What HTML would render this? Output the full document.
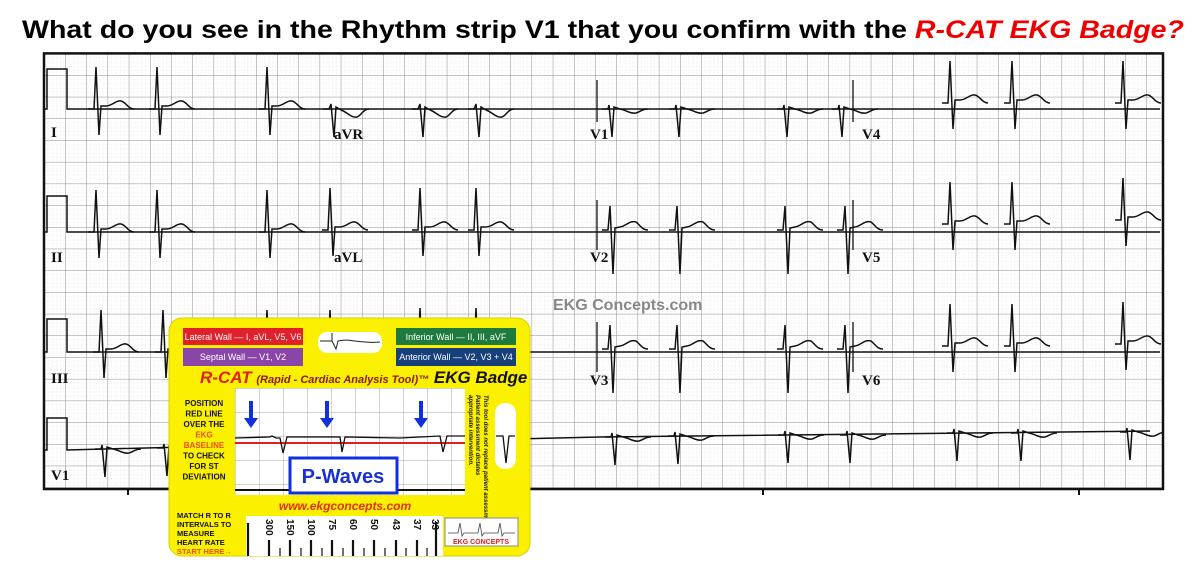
<!DOCTYPE html>
<html><head><meta charset="utf-8"><style>
html,body{margin:0;padding:0;background:#fff;}
svg{display:block;}
</style></head><body>
<svg width="1200" height="570" viewBox="0 0 1200 570" xmlns="http://www.w3.org/2000/svg" font-family="Liberation Sans, sans-serif">
<defs>
<pattern id="g" x="44" y="53.4" width="21.2" height="21.7" patternUnits="userSpaceOnUse">
<g stroke="#dadada" stroke-width="0.6" stroke-dasharray="0.8,2.4">
<line x1="4.24" y1="0" x2="4.24" y2="21.7"/><line x1="8.48" y1="0" x2="8.48" y2="21.7"/><line x1="12.72" y1="0" x2="12.72" y2="21.7"/><line x1="16.96" y1="0" x2="16.96" y2="21.7"/>
<line y1="4.34" x1="0" y2="4.34" x2="21.2"/><line y1="8.68" x1="0" y2="8.68" x2="21.2"/><line y1="13.02" x1="0" y2="13.02" x2="21.2"/><line y1="17.36" x1="0" y2="17.36" x2="21.2"/>
</g>
<path d="M0,0 H21.2 M0,0 V21.7" stroke="#8c8c8c" stroke-width="1" fill="none"/>
</pattern>
<pattern id="g2" x="235" y="388" width="24" height="24" patternUnits="userSpaceOnUse">
<path d="M0,0 H24 M0,0 V24" stroke="#aaa" stroke-width="1" fill="none"/>
</pattern>
<clipPath id="clip"><rect x="45" y="54" width="1117" height="434"/></clipPath>
<path id="up" d="M-8,0 L-2,0 L0,-42 L3,26 L5,-3 L10,-3 C16,-3 20,-9 25,-8 C30,-7 32,0 38,0" fill="none" stroke="#111" stroke-width="1.5"/>
<path id="dn" d="M-8,0 L-2,0 L0,-5 L3,28 L5,-2 L10,1 C16,3 20,9 26,8 C30,7 32,0 38,0" fill="none" stroke="#111" stroke-width="1.5"/>
<path id="v1" d="M-8,0 L-2,0 L-1,-4 L2,28 L4,-2 L10,0 C16,1 20,5 26,4 C30,3 32,0 38,0" fill="none" stroke="#111" stroke-width="1.5"/>
<path id="v2" d="M-8,0 L-2,0 L0,-24 L3,44 L5,-2 L10,-3 C16,-4 20,-10 26,-8 C30,-5 32,0 38,0" fill="none" stroke="#111" stroke-width="1.5"/>
</defs>

<text x="603" y="38" text-anchor="middle" font-size="25" font-weight="bold" textLength="1162" lengthAdjust="spacingAndGlyphs" fill="#000">What do you see in the Rhythm strip V1 that you confirm with the <tspan fill="#e00" font-style="italic">R-CAT EKG Badge?</tspan></text>

<rect x="44" y="53.4" width="1119" height="435.6" fill="url(#g)"/>
<rect x="44" y="53.4" width="1119" height="435.6" fill="none" stroke="#111" stroke-width="2.5"/>
<g stroke="#111" stroke-width="2"><line x1="128" y1="489" x2="128" y2="495"/><line x1="445" y1="489" x2="445" y2="495"/><line x1="763" y1="489" x2="763" y2="495"/><line x1="1079" y1="489" x2="1079" y2="495"/></g>

<g clip-path="url(#clip)">
<g fill="none" stroke="#111" stroke-width="1.5">
<path d="M45,109 H47 V69 H67 V109 H1160"/>
<path d="M45,232 H47 V196 H67 V232 H1160"/>
<path d="M45,352 H47 V319 H67 V352 H1160"/>
<path d="M45,450 H47 V418 H67 V450 L300,444 L600,437 L1150,431"/>
<path d="M597,80 V122 M853,80 V122 M597,200 V250 M853,200 V250 M597,322 V372 M853,322 V372" stroke-width="1.3"/>
</g>
<use href="#up" x="96" y="109"/><use href="#up" x="157" y="109"/><use href="#up" x="267" y="109"/>
<use href="#dn" x="331" y="109"/><use href="#dn" x="420" y="109"/><use href="#dn" x="476" y="109"/>
<use href="#v1" x="610" y="109"/><use href="#v1" x="677" y="109"/><use href="#v1" x="785" y="109"/><use href="#v1" x="840" y="109"/>
<use href="#up" x="950" y="103"/><use href="#up" x="1012" y="103"/><use href="#up" x="1123" y="103"/>

<use href="#up" x="96" y="232"/><use href="#up" x="157" y="232"/><use href="#up" x="267" y="232"/>
<use href="#up" x="330" y="230"/><use href="#up" x="420" y="230"/><use href="#up" x="476" y="230"/>
<use href="#v2" x="610" y="230"/><use href="#v2" x="677" y="230"/><use href="#v2" x="785" y="230"/><use href="#v2" x="845" y="230"/>
<use href="#up" x="950" y="224"/><use href="#up" x="1012" y="224"/><use href="#up" x="1123" y="220"/>

<use href="#up" x="101" y="352"/><use href="#up" x="163" y="352"/><use href="#up" x="267" y="352"/>
<use href="#up" x="330" y="352"/><use href="#up" x="420" y="350"/><use href="#up" x="476" y="350"/>
<use href="#v2" x="610" y="349"/><use href="#v2" x="677" y="349"/><use href="#v2" x="785" y="349"/><use href="#v2" x="845" y="349"/>
<use href="#up" x="950" y="346"/><use href="#up" x="1012" y="346"/><use href="#up" x="1123" y="344"/>

<use href="#v1" x="103" y="449"/><use href="#v1" x="165" y="448"/><use href="#v1" x="443" y="437"/>
<use href="#v1" x="613" y="437"/><use href="#v1" x="676" y="436"/><use href="#v1" x="786" y="435"/><use href="#v1" x="848" y="435"/>
<use href="#v1" x="955" y="433"/><use href="#v1" x="1019" y="433"/><use href="#v1" x="1128" y="432"/>
</g>

<g font-family="Liberation Serif, serif" font-weight="bold" font-size="15" fill="#111">
<text x="51" y="137">I</text><text x="334" y="139">aVR</text><text x="590" y="139">V1</text><text x="862" y="139">V4</text>
<text x="51" y="262">II</text><text x="334" y="262">aVL</text><text x="590" y="262">V2</text><text x="862" y="262">V5</text>
<text x="51" y="383">III</text><text x="590" y="385">V3</text><text x="862" y="385">V6</text>
<text x="51" y="480">V1</text>
</g>
<text x="553" y="310" font-size="16" font-weight="bold" fill="#888">EKG Concepts.com</text>

<!-- Badge -->
<rect x="169" y="318" width="361" height="238" rx="13" fill="#fbf000" stroke="#d8d000" stroke-width="1"/>
<rect x="183" y="328" width="120" height="17" fill="#e0202a"/>
<text x="243" y="340" font-size="9" fill="#fff" text-anchor="middle">Lateral  Wall — I, aVL, V5, V6</text>
<rect x="183" y="348" width="120" height="18" fill="#8a45a8"/>
<text x="243" y="360" font-size="9" fill="#fff" text-anchor="middle">Septal  Wall — V1, V2</text>
<rect x="396" y="328" width="120" height="17" fill="#1e7a3e"/>
<text x="456" y="340" font-size="9" fill="#fff" text-anchor="middle">Inferior  Wall — II, III, aVF</text>
<rect x="396" y="348" width="120" height="18" fill="#173f7c"/>
<text x="456" y="360" font-size="9" fill="#fff" text-anchor="middle">Anterior  Wall — V2, V3 + V4</text>
<rect x="318" y="332" width="64" height="21" rx="9" fill="#fff"/>
<path d="M320,341 H332 V333 M332,341 L336,349 L338,341 C350,338 360,344 380,342" fill="none" stroke="#222" stroke-width="1"/>
<text x="200" y="383" font-size="17" font-weight="bold" font-style="italic" fill="#e02010">R-CAT <tspan font-size="11" fill="#8a1a0a">(Rapid - Cardiac Analysis Tool)™</tspan> <tspan font-size="17" fill="#111">EKG Badge</tspan></text>

<rect x="235" y="388" width="230" height="107" fill="#fff"/>
<rect x="235" y="388" width="230" height="107" fill="url(#g2)"/>
<line x1="235" y1="443" x2="465" y2="443" stroke="#e02020" stroke-width="2"/>
<path d="M235,438 L270,437 L272,436 L276,438 L280,438 L283,453 L287,437 L340,437 L342,452 L345,437 L400,438 L440,436 L443,452 L447,436 L465,436" fill="none" stroke="#111" stroke-width="1.3"/>
<line x1="235" y1="490" x2="465" y2="490" stroke="#111" stroke-width="2"/>
<g fill="#1030e0">
<rect x="249" y="401" width="4" height="18"/><path d="M244,418 H258 L251,428 Z"/>
<rect x="325" y="401" width="4" height="18"/><path d="M320,418 H334 L327,428 Z"/>
<rect x="419" y="401" width="4" height="18"/><path d="M414,418 H428 L421,428 Z"/>
</g>
<rect x="290" y="458" width="107" height="35" fill="#fff" stroke="#1030e0" stroke-width="3"/>
<text x="343" y="483" font-size="20" font-weight="bold" fill="#1a30d0" text-anchor="middle">P-Waves</text>

<g font-size="8" font-weight="bold" fill="#111" text-anchor="middle">
<text x="204" y="406">POSITION</text><text x="204" y="416.5">RED LINE</text><text x="204" y="427">OVER THE</text>
<text x="204" y="437.5" fill="#e85010">EKG</text><text x="204" y="448" fill="#e85010">BASELINE</text>
<text x="204" y="458.5">TO CHECK</text><text x="204" y="469">FOR ST</text><text x="204" y="479.5">DEVIATION</text>
</g>
<g font-size="6" font-style="italic" font-weight="bold" fill="#111">
<text transform="translate(484,395) rotate(90)">This tool does not replace patient assessment.</text>
<text transform="translate(476,395) rotate(90)">Patient assessment dictates</text>
<text transform="translate(469,395) rotate(90)">appropriate intervention.</text>
</g>
<rect x="495" y="403" width="21" height="66" rx="10" fill="#fff"/>
<path d="M496,436 H503 L506,463 L509,436 H515" fill="none" stroke="#111" stroke-width="1.3"/>

<text x="345" y="510" font-size="12" font-weight="bold" font-style="italic" fill="#e03010" text-anchor="middle">www.ekgconcepts.com</text>
<g font-size="7.5" font-weight="bold" fill="#111">
<text x="177" y="518">MATCH R TO R</text><text x="177" y="527">INTERVALS TO</text><text x="177" y="536">MEASURE</text><text x="177" y="545">HEART RATE</text>
<text x="177" y="554" fill="#e85010">START HERE→</text>
</g>
<rect x="246" y="516" width="197" height="40" fill="#fff"/>
<g stroke="#111" stroke-width="2.2">
<line x1="248" y1="523" x2="248" y2="556"/>
<line x1="269" y1="540" x2="269" y2="556"/><line x1="290" y1="540" x2="290" y2="556"/><line x1="311" y1="540" x2="311" y2="556"/>
<line x1="332" y1="540" x2="332" y2="556"/><line x1="353" y1="540" x2="353" y2="556"/><line x1="374" y1="540" x2="374" y2="556"/>
<line x1="396" y1="540" x2="396" y2="556"/><line x1="417" y1="540" x2="417" y2="556"/><line x1="436" y1="522" x2="436" y2="556"/>
</g>
<g stroke="#111" stroke-width="1.2">
<line x1="280" y1="548" x2="280" y2="556"/><line x1="301" y1="548" x2="301" y2="556"/><line x1="322" y1="548" x2="322" y2="556"/><line x1="343" y1="548" x2="343" y2="556"/><line x1="364" y1="548" x2="364" y2="556"/><line x1="385" y1="548" x2="385" y2="556"/><line x1="406" y1="548" x2="406" y2="556"/><line x1="427" y1="548" x2="427" y2="556"/>
</g>
<g font-size="10" font-weight="bold" fill="#111">
<text transform="translate(266,519) rotate(90)">300</text><text transform="translate(287,519) rotate(90)">150</text><text transform="translate(308,519) rotate(90)">100</text>
<text transform="translate(329,519) rotate(90)">75</text><text transform="translate(350,519) rotate(90)">60</text><text transform="translate(371,519) rotate(90)">50</text>
<text transform="translate(393,519) rotate(90)">43</text><text transform="translate(414,519) rotate(90)">37</text><text transform="translate(432,519) rotate(90)">33</text>
</g>
<rect x="445" y="518" width="73" height="28" fill="#fff" stroke="#888" stroke-width="1"/>
<path d="M448,533 H458 L460,523 L462,536 L464,533 H478 L480,523 L482,536 L484,533 H498 L500,523 L502,536 L504,533 H515" fill="none" stroke="#444" stroke-width="0.8"/>
<text x="481" y="544" font-size="7" font-weight="bold" fill="#e02020" text-anchor="middle">EKG CONCEPTS</text>
</svg>
</body></html>
